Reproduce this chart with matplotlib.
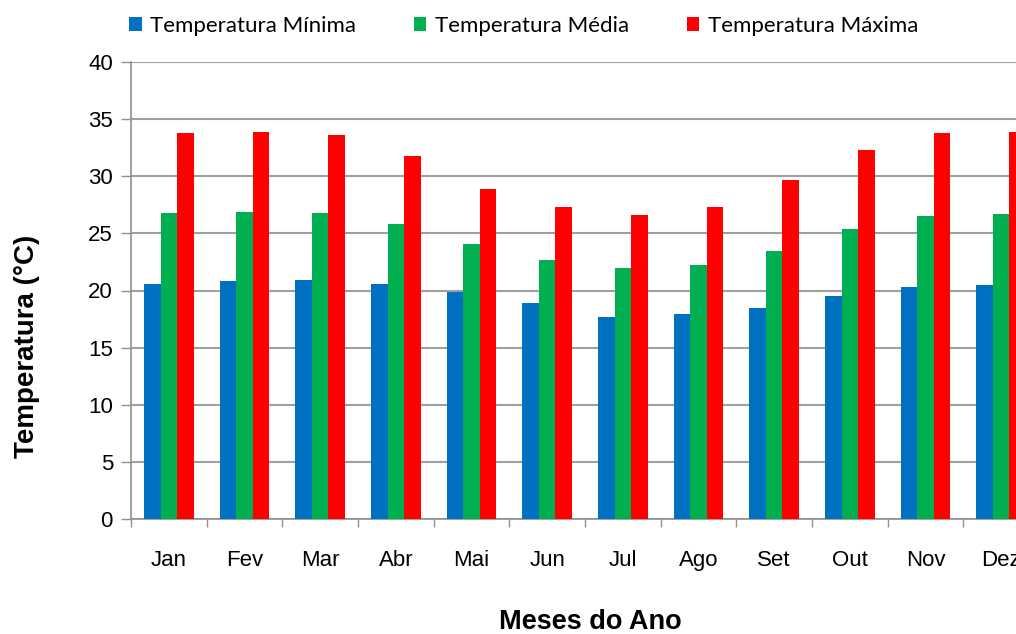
import matplotlib.pyplot as plt
import numpy as np

# dados
meses = ['Jan', 'Fev', 'Mar', 'Abr', 'Mai', 'Jun', 'Jul', 'Ago', 'Set', 'Out', 'Nov', 'Dez']
t_min = [20.6, 20.8, 20.9, 20.6, 19.9, 18.9, 17.7, 17.9, 18.5, 19.5, 20.3, 20.5]
t_med = [26.8, 26.9, 26.8, 25.8, 24.1, 22.7, 22.0, 22.2, 23.5, 25.4, 26.5, 26.7]
t_max = [33.8, 33.9, 33.6, 31.8, 28.9, 27.3, 26.6, 27.3, 29.7, 32.3, 33.8, 33.9]

plt.rcParams['font.family'] = ['Liberation Sans', 'DejaVu Sans']

fig = plt.figure(figsize=(10.16, 6.34), dpi=100)
# o eixo continua para alem da borda direita, como no original
ax = fig.add_axes([131 / 1016, 1 - 519 / 634, 908 / 1016, 457 / 634])

x = np.arange(len(meses))
w = 0.22
ax.bar(x - w, t_min, w, color='#0070c0', label='Temperatura Mínima', zorder=3)
ax.bar(x, t_med, w, color='#00b050', label='Temperatura Média', zorder=3)
ax.bar(x + w, t_max, w, color='#ff0000', label='Temperatura Máxima', zorder=3)

ax.set_xlim(-0.5, len(meses) - 0.5)
ax.set_ylim(0, 40)
ax.set_yticks(range(0, 41, 5))
ax.set_xticks(x)
ax.set_xticklabels(meses, fontsize=16)
ax.set_xticks(np.arange(-0.5, len(meses)), minor=True)
ax.tick_params(axis='x', which='major', length=0, pad=22)
ax.tick_params(axis='x', which='minor', length=6, color='#909090', width=1)
ax.tick_params(axis='y', length=7, color='#909090', width=1, labelsize=16, pad=6)

ax.yaxis.grid(True, color='#a0a0a0', linewidth=1.5, zorder=0)
for s in ['top', 'right']:
    ax.spines[s].set_visible(False)
for s in ['left', 'bottom']:
    ax.spines[s].set_color('#909090')
    ax.spines[s].set_linewidth(1.2)

fig.text(27 / 1016, 1 - 346 / 634, 'Temperatura (°C)', fontsize=20, fontweight='bold',
         rotation=90, ha='center', va='center')
fig.text(590 / 1016, 1 - 622 / 634, 'Meses do Ano', fontsize=19.5, fontweight='bold',
         ha='center', va='center')

fig.legend(loc='center', bbox_to_anchor=(524 / 1016, 1 - 26 / 634), ncol=3,
           frameon=False, handlelength=0.55, handleheight=0.55,
           handletextpad=0.4, columnspacing=2.6, prop={'family': 'Lato', 'size': 16})

fig.savefig('out.png', dpi=100)
